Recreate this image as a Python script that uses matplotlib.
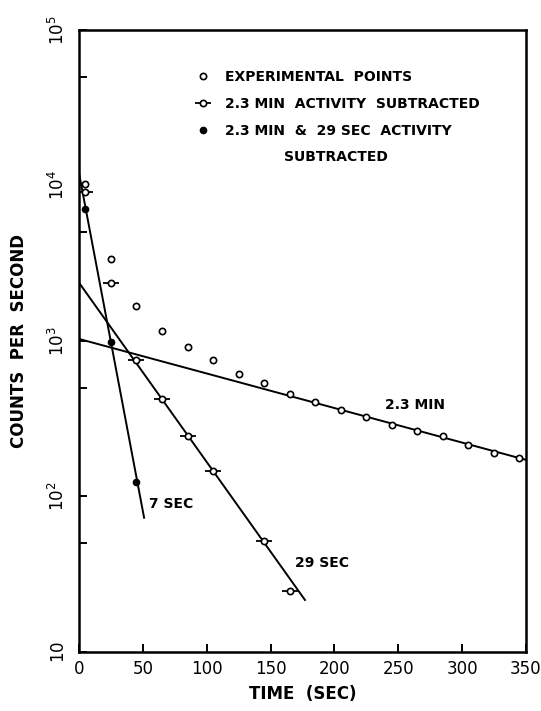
import numpy as np
import matplotlib
matplotlib.use("Agg")
import matplotlib.pyplot as plt
from matplotlib.ticker import FixedLocator, NullFormatter
from matplotlib.legend_handler import HandlerTuple

# experimental points (open circles), every 20 s
t_exp = [5, 25, 45, 65, 85, 105, 125, 145, 165, 185, 205, 225, 245, 265, 285, 305, 325, 345]
c_exp = [10200, 3350, 1680, 1160, 918, 759, 617, 537, 458, 403, 360, 324, 290, 264, 243, 214, 191, 178]

# 2.3 min activity subtracted
t_sub = [5, 25, 45, 65, 85, 105, 145, 165]
c_sub = [9100, 2360, 755, 424, 245, 145, 51.5, 24.8]

# 2.3 min & 29 sec activity subtracted
t_sub2 = [5, 25, 45]
c_sub2 = [7060, 986, 123]

# fitted decay lines (end points)
t_fit_23min = [0, 350]
c_fit_23min = [1030, 172]
t_fit_29s = [0, 177]
c_fit_29s = [2370, 21.6]
t_fit_7s = [0, 51]
c_fit_7s = [12000, 73]

x_ticks = [0, 50, 100, 150, 200, 250, 300, 350]
y_ticks = [10, 1e2, 1e3, 1e4, 1e5]
y_tick_labels = [r"$10$", r"$10^{2}$", r"$10^{3}$", r"$10^{4}$", r"$10^{5}$"]

plt.rcParams["font.family"] = ["DejaVu Sans"]

fig = plt.figure(figsize=(5.41, 7.11), dpi=100)
ax = fig.add_axes([0.146, 0.083, 0.826, 0.875])

lw = 1.4
ax.plot(t_fit_23min, c_fit_23min, color="black", lw=lw)
ax.plot(t_fit_29s, c_fit_29s, color="black", lw=lw)
ax.plot(t_fit_7s, c_fit_7s, color="black", lw=lw)

h_exp, = ax.plot(t_exp, c_exp, "o", ms=4.5, mfc="white", mec="black", mew=1.2, ls="none")
h_dash, = ax.plot(t_sub, c_sub, "_", ms=11, mec="black", mew=1.3, ls="none")
h_sub, = ax.plot(t_sub, c_sub, "o", ms=4.5, mfc="white", mec="black", mew=1.2, ls="none")
h_sub2, = ax.plot(t_sub2, c_sub2, "o", ms=4.5, mfc="black", mec="black", ls="none")

ax.set_yscale("log")
ax.set_xlim(0, 350)
ax.set_ylim(10, 1e5)

ax.set_xticks(x_ticks)
ax.set_xticklabels([str(v) for v in x_ticks])
ax.yaxis.set_major_locator(FixedLocator(y_ticks))
ax.set_yticklabels(y_tick_labels, rotation=90, va="center")
ax.yaxis.set_minor_locator(FixedLocator([50, 500, 5000, 50000]))
ax.yaxis.set_minor_formatter(NullFormatter())

ax.tick_params(axis="both", which="both", direction="in", length=6, width=1.4,
               top=False, right=False)
ax.tick_params(axis="x", labelsize=12, pad=6)
ax.tick_params(axis="y", labelsize=12, pad=8)

for sp in ax.spines.values():
    sp.set_linewidth(1.8)

ax.set_xlabel("TIME  (SEC)", fontsize=12, fontweight="bold", labelpad=5)
ax.set_ylabel("COUNTS  PER  SECOND", fontsize=12, fontweight="bold", labelpad=14)

# curve labels
tkw = dict(fontsize=10, fontweight="bold", va="center", ha="left")
ax.text(240, 387, "2.3 MIN", **tkw)
ax.text(55, 89.6, "7 SEC", **tkw)
ax.text(169.5, 37.3, "29 SEC", **tkw)

leg = ax.legend([h_exp, (h_dash, h_sub), h_sub2],
                ["EXPERIMENTAL  POINTS", "2.3 MIN  ACTIVITY  SUBTRACTED",
                 "2.3 MIN  &  29 SEC  ACTIVITY"],
                handler_map={tuple: HandlerTuple(ndivide=1, pad=0)},
                loc="upper left", bbox_to_anchor=(0.259, 0.936),
                frameon=False, borderpad=0, borderaxespad=0,
                handlelength=1.2, handletextpad=0.98, labelspacing=0.93,
                prop={"weight": "bold", "size": 10})
ax.text(0.575, 0.796, "SUBTRACTED", transform=ax.transAxes,
        fontsize=10, fontweight="bold", ha="center", va="center")

fig.savefig("out.png", dpi=100)
